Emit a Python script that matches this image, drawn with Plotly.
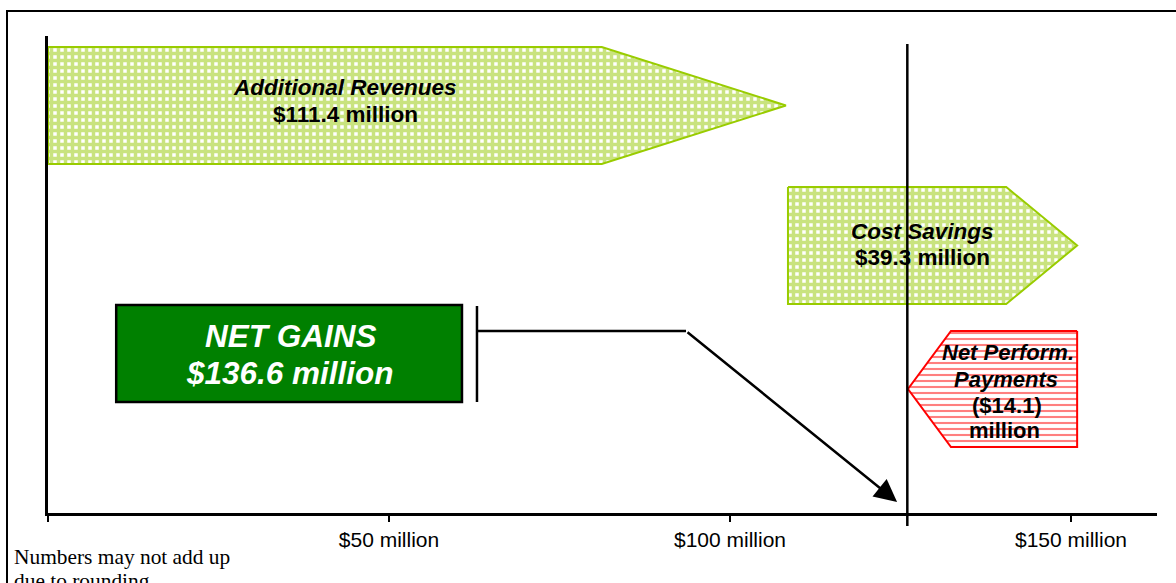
import plotly.graph_objects as go

# ---------------- data ----------------
categories = ["Additional Revenues", "Cost Savings", "Net Perform. Payments"]
values = [111.4, 39.3, -14.1]          # $ million
net_label = "NET GAINS"
net_value = 136.6                       # $ million

# drawn horizontal extents of the arrows, in $ million
arrow_start = [0.0, 108.5, 150.9]
arrow_shoulder = [81.2, 140.5, 132.4]
arrow_tip = [108.2, 150.9, 126.1]
net_box = [10.0, 60.7]                  # extent of the NET GAINS box
reference_line = 126.0                  # vertical reference line

tick_vals = [0, 50, 100, 150]
tick_text = ["", "$50 million", "$100 million", "$150 million"]

footnote = ["Numbers may not add up", "due to rounding"]

# ---------------- layout / style ----------------
W, H = 1176, 583
ML, MR, MT, MB = 48, 19, 36, 70
PX_PER_M = 6.82
XMAX = (W - MR - ML) / PX_PER_M
PLOT_H = H - MT - MB

SANS = "Liberation Sans, Arial, sans-serif"
SERIF = "Liberation Serif, Times New Roman, serif"
LIME = "#99CC00"
RED = "#FF0000"

# vertical rows (plot-y units, 0 = x-axis, PLOT_H = top) for each arrow: (top, bottom)
rows = [(466, 349), (326, 209), (182, 66)]
net_row = (208, 111)

grid = dict(shape="+", fgcolor="#94C800", bgcolor="white", size=7, solidity=0.75)
styles = [
    dict(line=LIME, pattern=grid),
    dict(line=LIME, pattern=grid),
    dict(line=RED, pattern=dict(shape="-", fgcolor=RED, bgcolor="white", size=6, solidity=0.35)),
]

fig = go.Figure()

for i, cat in enumerate(categories):
    top, bot = rows[i]
    mid = (top + bot) / 2
    xs = [arrow_start[i], arrow_shoulder[i], arrow_tip[i], arrow_shoulder[i], arrow_start[i], arrow_start[i]]
    ys = [top, top, mid, bot, bot, top]
    fig.add_trace(go.Scatter(
        x=xs, y=ys, mode="lines", fill="toself",
        fillcolor="white", fillpattern=styles[i]["pattern"],
        line=dict(color=styles[i]["line"], width=2),
        hoverinfo="skip", showlegend=False, name=cat,
    ))

# NET GAINS box
fig.add_shape(type="rect", xref="x", yref="y",
              x0=net_box[0], x1=net_box[1], y0=net_row[1], y1=net_row[0],
              fillcolor="#008000", line=dict(color="black", width=2.5), layer="above")

# bracket + connector + arrow
bracket_x = 62.9
bend_x = 93.55
conn_y = 182
fig.add_shape(type="line", xref="x", yref="y", x0=bracket_x, x1=bracket_x, y0=111, y1=207,
              line=dict(color="black", width=2.5))
fig.add_shape(type="line", xref="x", yref="y", x0=bracket_x, x1=bend_x, y0=conn_y, y1=conn_y,
              line=dict(color="black", width=2.5))
fig.add_annotation(x=124.5, y=11, ax=bend_x, ay=conn_y, xref="x", yref="y", axref="x", ayref="y",
                   showarrow=True, arrowhead=2, arrowsize=1.8, arrowwidth=2.5, arrowcolor="black", text="")

# vertical reference line
fig.add_shape(type="line", xref="x", yref="paper", x0=reference_line, x1=reference_line,
              y0=-13 / PLOT_H, y1=(PLOT_H - 8) / PLOT_H,
              line=dict(color="black", width=2.5))

# outer frame
fig.add_shape(type="rect", xref="paper", yref="paper",
              x0=(7 - ML) / (W - ML - MR), x1=(W + 10 - ML) / (W - ML - MR),
              y0=-0.2, y1=(PLOT_H + MT - 11) / PLOT_H,
              line=dict(color="black", width=2), fillcolor="rgba(0,0,0,0)")


def money(v):
    return f"${v:.1f} million" if v >= 0 else f"(${abs(v):.1f})"


def xm(px):
    return (px - ML) / PX_PER_M


def yd(py):
    return (H - MB) - py


def label(text, px, py, size, color="black", family=SANS):
    fig.add_annotation(x=xm(px), y=yd(py), xref="x", yref="y", text=text, showarrow=False,
                       xanchor="center", yanchor="middle",
                       font=dict(family=family, size=size, color=color))


# arrow labels
label(f"<b><i>{categories[0]}</i></b>", 345, 87, 22.5)
label(f"<b>{money(values[0])}</b>", 345, 114.5, 22.5)
label(f"<b><i>{categories[1]}</i></b>", 922.5, 231, 22.5)
label(f"<b>{money(values[1])}</b>", 922.5, 257.5, 22.5)
np_words = categories[2].split(" ")
label(f"<b><i>{np_words[0]} {np_words[1]}</i></b>", 1008, 352.5, 22)
label(f"<b><i>{np_words[2]}</i></b>", 1006, 379.5, 22)
label(f"<b>{money(values[2])}</b>", 1007, 405.5, 22)
label("<b>million</b>", 1004, 430.5, 22)
label(f"<b><i>{net_label}</i></b>", 290.5, 336, 31.5, color="white")
label(f"<b><i>${net_value:.1f} million</i></b>", 290, 373, 31.5, color="white")

# footnote
for k, line in enumerate(footnote):
    fig.add_annotation(x=(12 - ML) / (W - ML - MR), y=(H - MB - (556.5 + 24 * k)) / PLOT_H,
                       xref="paper", yref="paper", text=line, showarrow=False,
                       xanchor="left", yanchor="middle",
                       font=dict(family=SERIF, size=21.4, color="black"))

fig.update_xaxes(range=[0, XMAX], showgrid=False, zeroline=False,
                 showline=True, linecolor="black", linewidth=3,
                 ticks="outside", ticklen=6, tickwidth=2, tickcolor="black",
                 tickvals=tick_vals, ticktext=tick_text,
                 tickfont=dict(family=SANS, size=21, color="black"))
fig.update_yaxes(range=[0, PLOT_H], showgrid=False, zeroline=False,
                 showline=True, linecolor="black", linewidth=3,
                 showticklabels=False, ticks="")

fig.update_layout(width=W, height=H, margin=dict(l=ML, r=MR, t=MT, b=MB),
                  paper_bgcolor="white", plot_bgcolor="white", showlegend=False)

fig.write_html("out.html")
